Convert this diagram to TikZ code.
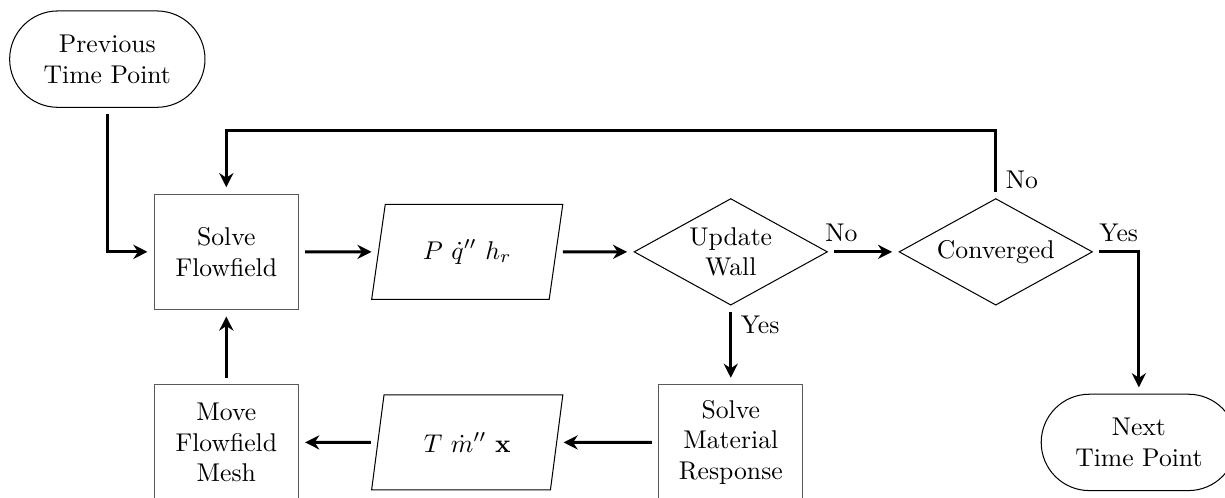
\documentclass[tikz,border=0pt]{standalone}
\usetikzlibrary{shapes.geometric,shapes.misc,arrows.meta}
\begin{document}
\begin{tikzpicture}[
    terminal/.style={rounded rectangle, draw, minimum width=2.91cm, minimum height=1.32cm, align=center},
    process/.style={rectangle, draw=black!65, minimum width=1.97cm, minimum height=1.58cm, align=center},
    dataio/.style={trapezium, trapezium left angle=78, trapezium right angle=102, trapezium stretches=true,
      draw, minimum width=2.63cm, minimum height=1.3cm},
    decision/.style={diamond, draw, aspect=1.8, inner sep=1pt, minimum width=2.65cm, minimum height=1.46cm, align=center},
    arr/.style={-{Stealth[length=5.5pt, width=5.5pt]}, line width=1.2pt, shorten <=2.5pt, shorten >=2.5pt}]
  \useasboundingbox (0,0) rectangle (16.78,6.81);
  % top row
  \node[terminal] (prev) at (1.47,6.00) {Previous\\ Time Point};
  \node[process]  (flow) at (3.10,3.36) {Solve\\ Flowfield};
  \node[dataio]   (outP) at (6.40,3.36) {$P~\dot{q}''~h_r$};
  \node[decision] (upd)  at (10.01,3.36) {Update\\ Wall};
  \node[decision] (conv) at (13.64,3.36) {Converged};
  % bottom row
  \node[process]  (mesh) at (3.10,0.75) {Move\\ Flowfield\\ Mesh};
  \node[dataio]   (outT) at (6.40,0.75) {$T~\dot{m}''~\mathbf{x}$};
  \node[process]  (mat)  at (10.01,0.75) {Solve\\ Material\\ Response};
  \node[terminal] (next) at (15.60,0.75) {Next\\ Time Point};
  % connectors
  \foreach \a/\b in {flow.east/outP.west, outP.east/upd.west, mat.west/outT.east,
      outT.west/mesh.east, mesh.north/flow.south}
    \draw[arr] (\a) -- (\b);
  \draw[arr] (prev.south) |- (flow.west);
  \draw[arr] (upd.east) -- node[above, pos=0.19] {No} (conv.west);
  \draw[arr] (upd.south) -- node[right, pos=0.25] {Yes} (mat.north);
  \draw[arr] (conv.east) -| node[above, pos=0.28] {Yes} (next.north);
  \draw[arr] (conv.north) -- ++(0,0.92) node[right, pos=0.27] {No} -| (flow.north);
\end{tikzpicture}
\end{document}
